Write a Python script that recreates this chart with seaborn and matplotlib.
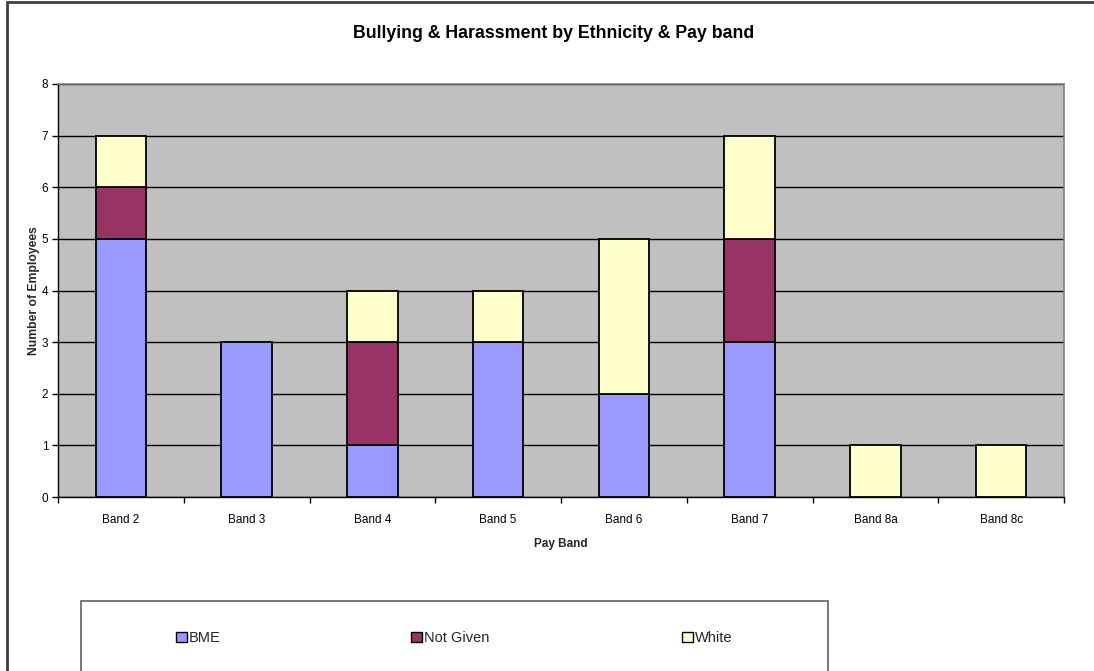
import matplotlib
matplotlib.use("Agg")
import matplotlib.pyplot as plt
from matplotlib.lines import Line2D
from matplotlib.patches import Rectangle, Patch
import numpy as np
import pandas as pd
import seaborn as sns

# Counts of bullying & harassment cases per pay band, split by ethnicity
bands = ["Band 2", "Band 3", "Band 4", "Band 5", "Band 6", "Band 7", "Band 8a", "Band 8c"]
bme = [5, 3, 1, 3, 2, 3, 0, 0]
not_given = [1, 0, 2, 0, 0, 2, 0, 0]
white = [1, 0, 1, 1, 3, 2, 1, 1]

series_names = ["BME", "Not Given", "White"]
series_colors = ["#9999FF", "#993366", "#FFFFCC"]
y_ticks = list(range(0, 9))

sns.set_theme(style="white")
plt.rcParams["font.family"] = ["Liberation Sans", "DejaVu Sans"]

W, H = 1094, 671
fig = plt.figure(figsize=(W / 100, H / 100), dpi=100)
fig.patch.set_facecolor("white")

def px(x0, y0, x1, y1):
    return [x0 / W, 1 - y1 / H, (x1 - x0) / W, (y1 - y0) / H]

ax = fig.add_axes(px(58, 84, 1064, 497))
ax.set_facecolor("#C0C0C0")

df = pd.DataFrame({"band": bands, "BME": bme, "Not Given": not_given, "White": white})

bottom = np.zeros(len(bands))
for name, color in zip(series_names, series_colors):
    vals = df[name].to_numpy(dtype=float)
    sns.barplot(data=df, x="band", y=name, color=color, bottom=bottom,
                width=0.4, edgecolor="black", linewidth=1.3, errorbar=None,
                saturation=1, ax=ax, zorder=3)
    bottom = bottom + vals

# hide zero-height segments
for p in ax.patches:
    if p.get_height() == 0:
        p.set_visible(False)

ax.set_xlim(-0.5, len(bands) - 0.5)
ax.set_ylim(0, 8)
ax.set_yticks(y_ticks)
ax.set_yticklabels([str(t) for t in y_ticks], fontsize=8.5, color="black")
ax.yaxis.grid(True, color="black", linewidth=1, zorder=1)
ax.set_axisbelow(True)

ax.set_xticks(range(len(bands)))
ax.set_xticklabels(bands, fontsize=8.5, color="black")
ax.set_xticks(np.arange(-0.5, len(bands), 1.0), minor=True)
ax.tick_params(axis="x", which="major", length=0, pad=12)
ax.tick_params(axis="x", which="minor", length=4, width=1, color="black", direction="out", bottom=True)
ax.tick_params(axis="y", which="major", length=4, width=1, color="black", direction="out", left=True, pad=3)

ax.set_xlabel("Pay Band", fontsize=8.5, fontweight="bold", labelpad=9)
ax.set_ylabel("Number of Employees", fontsize=8.7, fontweight="bold", labelpad=1)

for side in ["top", "right"]:
    ax.spines[side].set_color("#808080")
    ax.spines[side].set_linewidth(1.2)
for side in ["left", "bottom"]:
    ax.spines[side].set_color("black")
    ax.spines[side].set_linewidth(1)

fig.text(554 / W, 1 - 33 / H, "Bullying & Harassment by Ethnicity & Pay band",
         ha="center", va="center", fontsize=12.8, fontweight="bold", color="black")

# outer chart frame (left and top edges)
fig.add_artist(Line2D([7 / W, 7 / W], [0, 1 - 2 / H], transform=fig.transFigure,
                      color="#404040", linewidth=2))
fig.add_artist(Line2D([7 / W, 1], [1 - 2 / H, 1 - 2 / H], transform=fig.transFigure,
                      color="#404040", linewidth=2))

# legend box
fig.add_artist(Rectangle((81 / W, -0.01), (828 - 81) / W, 0.01 + (671 - 601) / H,
                         transform=fig.transFigure, facecolor="white",
                         edgecolor="#606060", linewidth=1.2))

legend_x = [176, 411, 682]
for name, color, lx in zip(series_names, series_colors, legend_x):
    handle = Patch(facecolor=color, edgecolor="black", linewidth=1)
    fig.legend(handles=[handle], labels=[name], loc="center left",
               bbox_to_anchor=(lx / W, 1 - 638 / H), bbox_transform=fig.transFigure,
               frameon=False, fontsize=10.5, handlelength=0.75, handleheight=0.75,
               handletextpad=0.15, borderpad=0, borderaxespad=0)

fig.savefig("out.png", dpi=100, facecolor="white")
